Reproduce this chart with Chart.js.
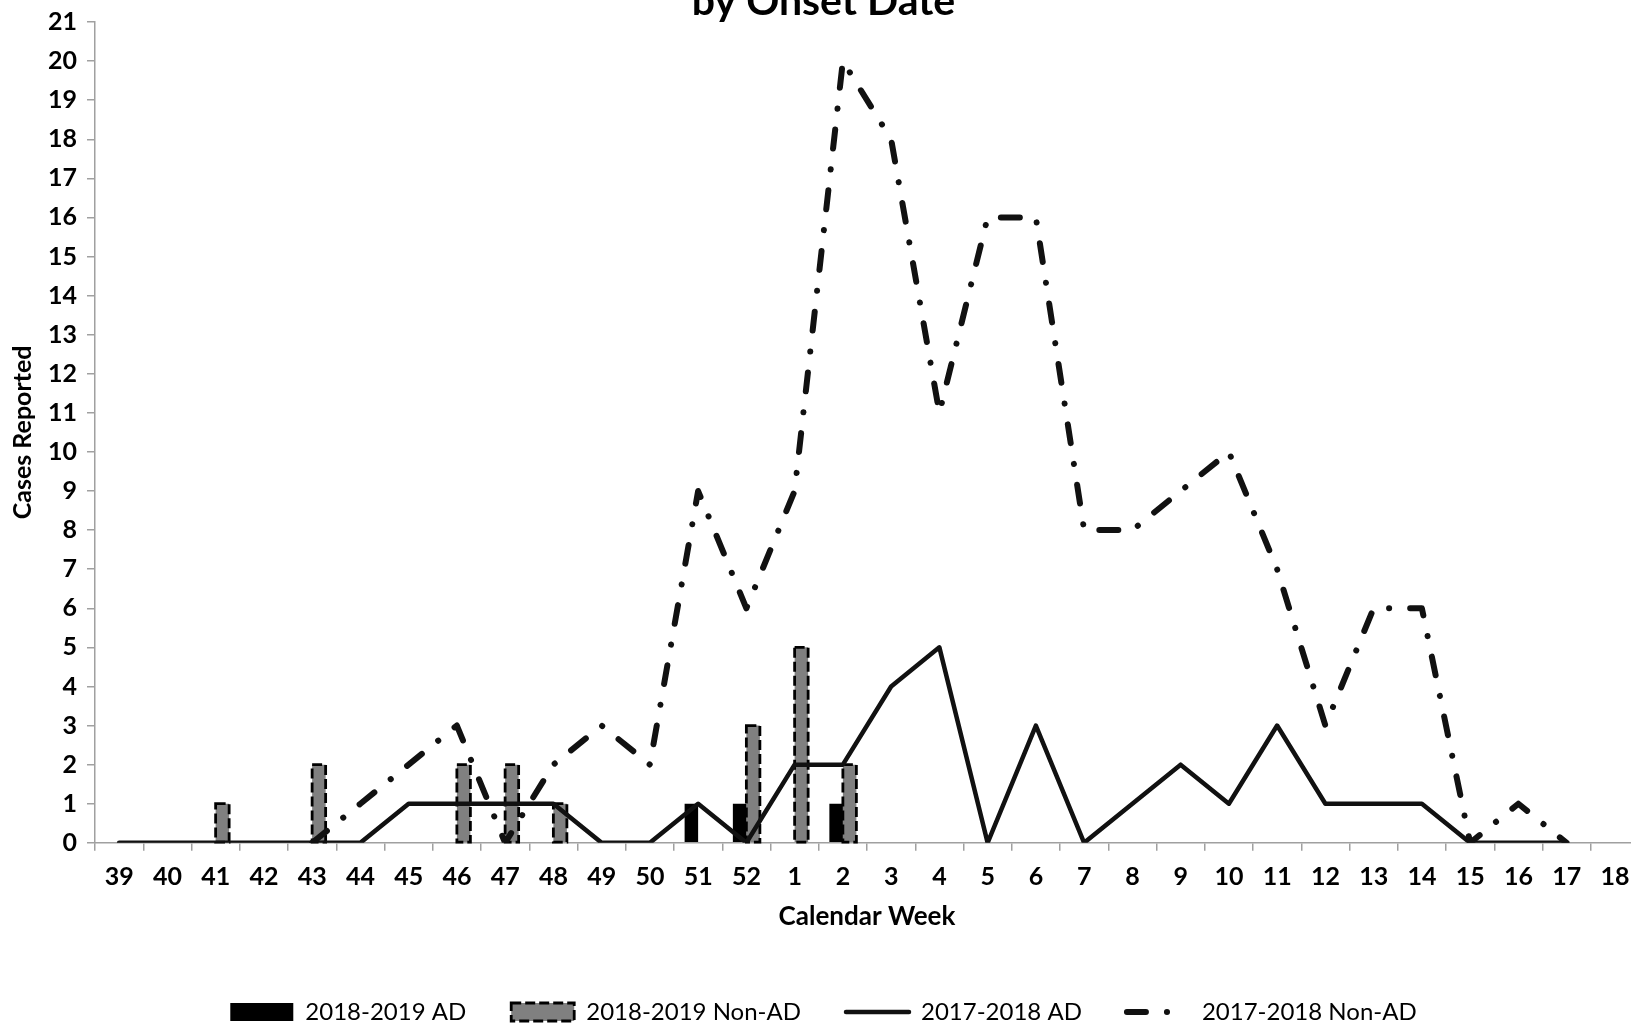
<!DOCTYPE html>
<html>
<head>
<meta charset="utf-8">
<script src="https://cdn.jsdelivr.net/npm/chart.js@4.4.1/dist/chart.umd.min.js"></script>
<style>
  html, body { margin: 0; padding: 0; background: #fff; overflow: hidden; width: 1631px; height: 1024px; }
  #wrap { position: absolute; left: 0; top: -19px; width: 1660px; height: 1053px; }
</style>
</head>
<body>
<div id="wrap"><canvas id="c"></canvas></div>
<script>
// ---- data ----
const weeks = ['39','40','41','42','43','44','45','46','47','48','49','50','51','52',
               '1','2','3','4','5','6','7','8','9','10','11','12','13','14','15','16','17','18'];
const ad1819 = [null,null,null,null,null,null,null,null,null,null,null,null,1,1,
                null,1,null,null,null,null,null,null,null,null,null,null,null,null,null,null,null,null];
const nonAd1819 = [null,null,1,null,2,null,null,2,2,1,null,null,null,3,
                   5,2,null,null,null,null,null,null,null,null,null,null,null,null,null,null,null,null];
const ad1718 = [0,0,0,0,0,0,1,1,1,1,0,0,1,0,
                2,2,4,5,0,3,0,1,2,1,3,1,1,1,0,0,0,null];
const nonAd1718 = [null,null,null,null,0,1,2,3,0,2,3,2,9,6,
                   9,20,18,11,16,16,8,8,9,10,7,3,6,6,0,1,0,null];
const yTicksMax = 21;

const seriesLabels = ['2018-2019 AD', '2018-2019 Non-AD', '2017-2018 AD', '2017-2018 Non-AD'];
const FONT = 'Lato';
const dashDot = [19, 21, 0.1, 21];
const legendDashDot = [19, 21, 0.1, 60];
const barDash = [10, 4];

// dashed border for the gray bars
const dashedBars = {
  id: 'dashedBars',
  afterDatasetDraw(chart, args) {
    if (args.index !== 1) return;
    const ctx = chart.ctx;
    const meta = args.meta;
    ctx.save();
    ctx.strokeStyle = '#000';
    ctx.lineWidth = 2.8;
    ctx.setLineDash(barDash);
    meta.data.forEach((el, i) => {
      const v = chart.data.datasets[1].data[i];
      if (v === null || v === undefined) return;
      const p = el.getProps(['x', 'y', 'base', 'width'], true);
      ctx.strokeRect(p.x - p.width / 2, p.y, p.width, p.base - p.y);
    });
    ctx.restore();
  }
};

new Chart(document.getElementById('c'), {
  data: {
    labels: weeks,
    datasets: [
      { type: 'bar', label: seriesLabels[0], data: ad1819, backgroundColor: '#000000',
        borderWidth: 0, order: 2, categoryPercentage: 0.56, barPercentage: 1.0 },
      { type: 'bar', label: seriesLabels[1], data: nonAd1819, backgroundColor: '#808080',
        borderWidth: 0, order: 2, categoryPercentage: 0.56, barPercentage: 1.0 },
      { type: 'line', label: seriesLabels[2], data: ad1718, borderColor: '#111111',
        borderWidth: 4.5, pointRadius: 0, tension: 0, borderJoinStyle: 'round', borderCapStyle: 'round',
        fill: false, order: 1 },
      { type: 'line', label: seriesLabels[3], data: nonAd1718, borderColor: '#111111',
        borderWidth: 6, borderDash: dashDot, borderCapStyle: 'round', borderJoinStyle: 'round',
        pointRadius: 0, tension: 0, fill: false, order: 0 }
    ]
  },
  plugins: [dashedBars],
  options: {
    responsive: true,
    maintainAspectRatio: false,
    animation: false,
    layout: { padding: { left: 8, right: 21, top: 0, bottom: 0 } },
    plugins: {
      tooltip: { enabled: false },
      title: {
        display: true, text: 'by Onset Date', color: '#000',
        font: { family: FONT, size: 41, weight: 'bold', lineHeight: 1.0 },
        padding: { top: 0, bottom: 0 }
      },
      legend: {
        position: 'bottom',
        labels: {
          color: '#000',
          font: { family: FONT, size: 24 },
          usePointStyle: true,
          pointStyleWidth: 63,
          boxHeight: 18,
          padding: 45,
          generateLabels(chart) {
            const ds = chart.data.datasets;
            return [
              { text: ds[0].label, datasetIndex: 0, fillStyle: '#000', strokeStyle: '#000', lineWidth: 0,
                pointStyle: 'rect', hidden: false, fontColor: '#000' },
              { text: ds[1].label, datasetIndex: 1, fillStyle: '#808080', strokeStyle: '#000', lineWidth: 2.8,
                lineDash: barDash, pointStyle: 'rect', hidden: false, fontColor: '#000' },
              { text: ds[2].label, datasetIndex: 2, fillStyle: 'rgba(0,0,0,0)', strokeStyle: '#111', lineWidth: 4.5,
                lineCap: 'round', pointStyle: 'line', hidden: false, fontColor: '#000' },
              { text: ds[3].label, datasetIndex: 3, fillStyle: 'rgba(0,0,0,0)', strokeStyle: '#111', lineWidth: 6,
                lineDash: legendDashDot, lineCap: 'round', pointStyle: 'line', hidden: false, fontColor: '#000' }
            ];
          }
        }
      }
    },
    scales: {
      x: {
        type: 'category',
        offset: true,
        grid: { display: true, drawOnChartArea: false, drawTicks: true, tickLength: 8,
                color: '#a0a0a0', lineWidth: 1.5, offset: true },
        border: { display: true, color: '#a0a0a0', width: 1.5 },
        ticks: { color: '#000', font: { family: FONT, size: 25, weight: 'bold' },
                 autoSkip: false, maxRotation: 0, minRotation: 0, padding: 11 },
        title: { display: true, text: 'Calendar Week', color: '#000',
                 font: { family: FONT, size: 26, weight: 'bold', lineHeight: 1.0 },
                 padding: { top: 1.2, bottom: 25 } }
      },
      y: {
        min: 0, max: yTicksMax,
        grid: { display: true, drawOnChartArea: false, drawTicks: true, tickLength: 8,
                color: '#a0a0a0', lineWidth: 1.5 },
        border: { display: true, color: '#a0a0a0', width: 1.5 },
        ticks: { stepSize: 1, color: '#000', font: { family: FONT, size: 25, weight: 'bold' }, padding: 10 },
        title: { display: true, text: 'Cases Reported', color: '#000',
                 font: { family: FONT, size: 25, weight: 'bold' },
                 padding: { top: 0, bottom: 0 } }
      }
    }
  }
});
</script>
</body>
</html>
